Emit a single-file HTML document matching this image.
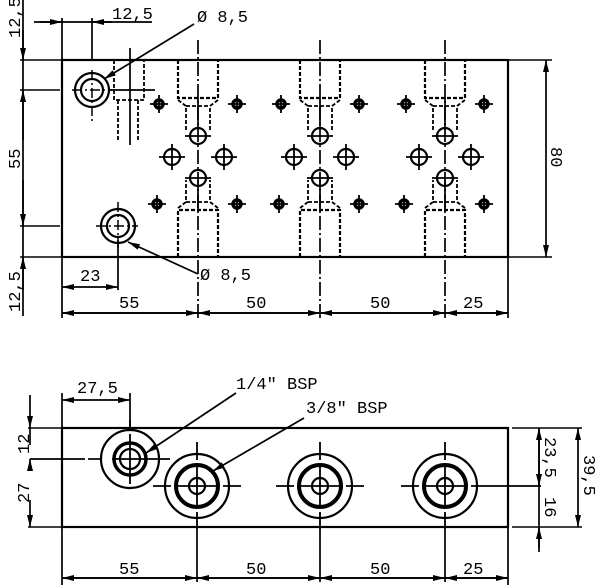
<!DOCTYPE html>
<html><head><meta charset="utf-8"><style>
html,body{margin:0;padding:0;background:#fff;width:600px;height:588px;overflow:hidden}
svg{display:block}
text{font-family:"Liberation Mono",monospace;font-size:17px;fill:#000}
line{stroke-width:1.7px}
</style></head><body>
<svg width="600" height="588" viewBox="0 0 600 588" xmlns="http://www.w3.org/2000/svg">
<defs>
<marker id="a" viewBox="0 0 12 6" refX="12" refY="3" markerWidth="12" markerHeight="6" orient="auto" markerUnits="userSpaceOnUse"><path d="M0,0 L12,3 L0,6z" fill="#000"/></marker>
<g id="col" fill="none" stroke="#000">
 <line x1="0" y1="-20" x2="0" y2="258" stroke-dasharray="14,3,2,3"/>
 <path d="M-20,0 V38 H20 V0" stroke-width="2.2" stroke-dasharray="4,2"/>
 <path d="M-20,40 L-12,46 V70 M20,40 L12,46 V70 M-12,46 H12" stroke-width="1.8" stroke-dasharray="4,2"/>
 <line x1="0" y1="38" x2="0" y2="70"/>
 <path d="M-20,197 V150 H20 V197" stroke-width="2.2" stroke-dasharray="4,2"/>
 <path d="M-20,148 L-12,142 V120 M20,148 L12,142 V120 M-12,142 H12" stroke-width="1.8" stroke-dasharray="4,2"/>
 <line x1="0" y1="150" x2="0" y2="120"/>
 <g stroke-width="2.2">
  <circle cx="0" cy="76" r="8"/><circle cx="0" cy="118" r="8"/>
  <circle cx="-26" cy="97" r="8"/><circle cx="26" cy="97" r="8"/>
 </g>
 <g stroke-width="1.8">
  <path d="M-13,76 H13 M-13,118 H13 M-39,97 H-13 M-26,84 V110 M13,97 H39 M26,84 V110"/>
 </g>
 <g stroke-width="3.5">
  <circle cx="-39" cy="44" r="4"/><circle cx="39" cy="44" r="4"/>
  <circle cx="-41" cy="144" r="4"/><circle cx="39" cy="144" r="4"/>
 </g>
 <g stroke-width="1.8">
  <path d="M-48,44 H-30 M-39,35 V53 M30,44 H48 M39,35 V53 M-50,144 H-32 M-41,135 V153 M30,144 H48 M39,135 V153"/>
 </g>
</g>
<g id="ring3" fill="none" stroke="#000">
 <circle r="32" stroke-width="2.2"/>
 <circle r="21" stroke-width="4"/>
 <circle r="8" stroke-width="2.2"/>
 <path d="M-44,0 H-26 M-22,0 H22 M26,0 H44 M0,-44 V-26 M0,-22 V22 M0,26 V44" stroke-width="1.8"/>
</g>
</defs>

<g stroke="#000" fill="none">
<rect x="62" y="60" width="446" height="197" stroke-width="2.2"/>
<use href="#col" x="198" y="60"/>
<use href="#col" x="320" y="60"/>
<use href="#col" x="445" y="60"/>
<path d="M114,60 V100 H144 V60" stroke-width="1.8" stroke-dasharray="4,2"/>
<path d="M118,100 V140 M138,100 V140" stroke-width="1.8" stroke-dasharray="4,2"/>
<line x1="130" y1="48" x2="130" y2="145"/>
<line x1="110" y1="90" x2="155" y2="90"/>
<circle cx="92" cy="90" r="17" stroke-width="2.2"/><circle cx="92" cy="90" r="11" stroke-width="2.2"/>
<circle cx="118" cy="226" r="17" stroke-width="2.2"/><circle cx="118" cy="226" r="11" stroke-width="2.2"/>
<path d="M72,90 H112 M92,70 V122" stroke-width="1.5" stroke-dasharray="10,3,2,3"/>
<path d="M96,226 H138 M118,202 V248" stroke-width="1.5" stroke-dasharray="10,3,2,3"/>

<line x1="23" y1="0" x2="23" y2="316"/>
<path d="M20,60 H62 M20,90 H60 M20,226 H60 M20,257 H62" stroke-width="1.6"/>
<line x1="23" y1="30" x2="23" y2="60" marker-end="url(#a)"/>
<line x1="23" y1="140" x2="23" y2="90" marker-end="url(#a)"/>
<line x1="23" y1="180" x2="23" y2="226" marker-end="url(#a)"/>
<line x1="23" y1="290" x2="23" y2="257" marker-end="url(#a)"/>
<line x1="62" y1="18" x2="62" y2="318"/>
<line x1="92" y1="18" x2="92" y2="60"/>
<line x1="34" y1="22" x2="152" y2="22"/>
<line x1="40" y1="22" x2="62" y2="22" marker-end="url(#a)"/>
<line x1="112" y1="22" x2="92" y2="22" marker-end="url(#a)"/>
<line x1="194" y1="24" x2="104" y2="79" marker-end="url(#a)"/>
<line x1="198" y1="274" x2="128" y2="242" marker-end="url(#a)"/>
<line x1="118" y1="240" x2="118" y2="290"/>
<line x1="90" y1="287" x2="62" y2="287" marker-end="url(#a)"/>
<line x1="90" y1="287" x2="118" y2="287" marker-end="url(#a)"/>
<line x1="508" y1="257" x2="508" y2="318"/>
<line x1="62" y1="313" x2="508" y2="313"/>
<line x1="130" y1="313" x2="62" y2="313" marker-end="url(#a)"/><line x1="130" y1="313" x2="198" y2="313" marker-end="url(#a)"/>
<line x1="259" y1="313" x2="198" y2="313" marker-end="url(#a)"/><line x1="259" y1="313" x2="320" y2="313" marker-end="url(#a)"/>
<line x1="382" y1="313" x2="320" y2="313" marker-end="url(#a)"/><line x1="382" y1="313" x2="445" y2="313" marker-end="url(#a)"/>
<line x1="476" y1="313" x2="445" y2="313" marker-end="url(#a)"/><line x1="476" y1="313" x2="508" y2="313" marker-end="url(#a)"/>
<path d="M508,60 H552 M508,257 H552" stroke-width="1.6"/>
<line x1="546" y1="158" x2="546" y2="60" marker-end="url(#a)"/>
<line x1="546" y1="158" x2="546" y2="257" marker-end="url(#a)"/>

<rect x="62" y="428" width="446" height="99" stroke-width="2.2"/>
<circle cx="130" cy="459" r="29" stroke-width="2.2"/>
<circle cx="130" cy="459" r="16" stroke-width="3.5"/>
<circle cx="130" cy="459" r="10" stroke-width="2.2"/>
<path d="M112,459 H170 M130,434 V484 M130,420 V428" stroke-width="1.8"/>
<line x1="30" y1="459" x2="85" y2="459"/>
<line x1="88" y1="459" x2="100" y2="459"/>
<use href="#ring3" x="197" y="486"/>
<use href="#ring3" x="320" y="486"/>
<use href="#ring3" x="445" y="486"/>
<line x1="197" y1="530" x2="197" y2="582"/>
<line x1="320" y1="530" x2="320" y2="582"/>
<line x1="445" y1="530" x2="445" y2="582"/>
<line x1="489" y1="486" x2="541" y2="486"/>
<path d="M28,428 H62 M28,527 H62" stroke-width="1.6"/>
<line x1="62" y1="393" x2="62" y2="585"/>
<line x1="30" y1="395" x2="30" y2="428" marker-end="url(#a)"/>
<line x1="30" y1="445" x2="30" y2="428"/>
<line x1="30" y1="470" x2="30" y2="459" marker-end="url(#a)"/>
<line x1="30" y1="500" x2="30" y2="527" marker-end="url(#a)"/>
<line x1="130" y1="393" x2="130" y2="428"/>
<line x1="96" y1="400" x2="62" y2="400" marker-end="url(#a)"/>
<line x1="96" y1="400" x2="130" y2="400" marker-end="url(#a)"/>
<line x1="236" y1="393" x2="146" y2="453" marker-end="url(#a)"/>
<line x1="304" y1="418" x2="213" y2="471" marker-end="url(#a)"/>
<path d="M512,428 H582 M512,527 H582" stroke-width="1.6"/>
<line x1="539" y1="428" x2="539" y2="552"/>
<line x1="539" y1="460" x2="539" y2="428" marker-end="url(#a)"/>
<line x1="539" y1="460" x2="539" y2="486" marker-end="url(#a)"/>
<line x1="539" y1="548" x2="539" y2="527" marker-end="url(#a)"/>
<line x1="578" y1="478" x2="578" y2="428" marker-end="url(#a)"/>
<line x1="578" y1="478" x2="578" y2="527" marker-end="url(#a)"/>
<line x1="508" y1="527" x2="508" y2="585"/>
<line x1="62" y1="578" x2="508" y2="578"/>
<line x1="130" y1="578" x2="62" y2="578" marker-end="url(#a)"/><line x1="130" y1="578" x2="197" y2="578" marker-end="url(#a)"/>
<line x1="259" y1="578" x2="197" y2="578" marker-end="url(#a)"/><line x1="259" y1="578" x2="320" y2="578" marker-end="url(#a)"/>
<line x1="382" y1="578" x2="320" y2="578" marker-end="url(#a)"/><line x1="382" y1="578" x2="445" y2="578" marker-end="url(#a)"/>
<line x1="476" y1="578" x2="445" y2="578" marker-end="url(#a)"/><line x1="476" y1="578" x2="508" y2="578" marker-end="url(#a)"/>
</g>

<text x="112" y="19">12,5</text>
<text x="197" y="22">Ø 8,5</text>
<text x="200" y="280">Ø 8,5</text>
<text x="80" y="281">23</text>
<text x="119" y="308">55</text>
<text x="246" y="308">50</text>
<text x="370" y="308">50</text>
<text x="463" y="308">25</text>
<text transform="translate(20,38) rotate(-90)">12,5</text>
<text transform="translate(20,169) rotate(-90)">55</text>
<text transform="translate(20,312) rotate(-90)">12,5</text>
<text transform="translate(551,147) rotate(90)">80</text>

<text x="236" y="389">1/4" BSP</text>
<text x="306" y="413">3/8" BSP</text>
<text x="77" y="393">27,5</text>
<text transform="translate(29,454) rotate(-90)">12</text>
<text transform="translate(29,503) rotate(-90)">27</text>
<text transform="translate(545,437) rotate(90)">23,5</text>
<text transform="translate(545,497) rotate(90)">16</text>
<text transform="translate(584,455) rotate(90)">39,5</text>
<text x="119" y="574">55</text>
<text x="246" y="574">50</text>
<text x="370" y="574">50</text>
<text x="463" y="574">25</text>
</svg>
</body></html>
